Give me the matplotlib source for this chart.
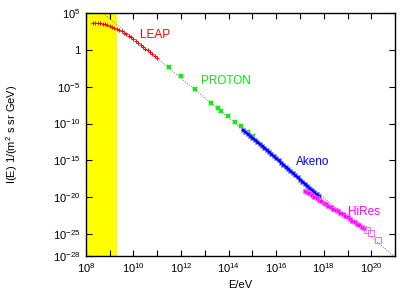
import numpy as np
import matplotlib.pyplot as plt
from matplotlib.ticker import FixedLocator, FixedFormatter, NullLocator

plt.rcParams['font.family'] = ['Liberation Sans', 'DejaVu Sans']
plt.rcParams['mathtext.default'] = 'regular'

# log10(E/eV), log10(I)
leap_logE = [8.3, 8.4, 8.5, 8.6, 8.7, 8.8, 8.9, 9.0, 9.1, 9.2, 9.3, 9.4, 9.5, 9.6,
             9.7, 9.8, 9.9, 10.0, 10.1, 10.2, 10.3, 10.4, 10.5, 10.6, 10.7, 10.8, 10.9, 11.0]
leap_logI = [3.70, 3.72, 3.70, 3.66, 3.58, 3.48, 3.38, 3.27, 3.15, 3.02, 2.88, 2.72, 2.55, 2.36,
             2.16, 1.94, 1.71, 1.47, 1.22, 0.97, 0.71, 0.45, 0.19, -0.08, -0.35, -0.62, -0.89, -1.16]

proton_logE = [11.50, 11.99, 12.58, 13.25, 13.56, 13.67, 13.98, 14.27, 14.52, 14.80, 15.03]
proton_logI = [-2.3, -3.6, -5.3, -7.15, -7.9, -8.3, -9.0, -9.75, -10.4, -11.1, -11.75]

akeno_logE = [14.6, 14.7, 14.8, 14.9, 15.0, 15.1, 15.2, 15.3, 15.4, 15.5, 15.6, 15.7, 15.8,
              15.9, 16.0, 16.1, 16.2, 16.3, 16.4, 16.5, 16.6, 16.7, 16.8, 16.9, 17.0, 17.1,
              17.2, 17.3, 17.4, 17.5, 17.6, 17.7, 17.8]
akeno_logI = [-10.86, -11.13, -11.40, -11.67, -11.94, -12.21, -12.48, -12.75, -13.02, -13.29,
              -13.58, -13.86, -14.15, -14.44, -14.73, -15.01, -15.30, -15.59, -15.87, -16.16,
              -16.45, -16.73, -17.02, -17.31, -17.60, -17.88, -18.17, -18.46, -18.74, -19.03,
              -19.32, -19.60, -19.89]

hires_logE = [17.2, 17.3, 17.4, 17.5, 17.6, 17.7, 17.8, 17.9, 18.0, 18.1, 18.2, 18.3, 18.4,
              18.5, 18.6, 18.7, 18.8, 18.9, 19.0, 19.1, 19.2, 19.3, 19.4, 19.5, 19.6, 19.7]
hires_logI = [-19.10, -19.30, -19.50, -19.71, -19.92, -20.12, -20.33, -20.53, -20.74, -20.94,
              -21.14, -21.34, -21.54, -21.74, -21.94, -22.14, -22.34, -22.54, -22.75, -22.96,
              -23.17, -23.38, -23.58, -23.79, -24.00, -24.22]
hires_open_logE = [19.8, 20.0, 20.28]
hires_open_logI = [-24.45, -24.8, -25.8]

# E^-2.7 reference line, end points
ref_logE = [8.0, 21.0]
ref_logI = [6.96, -28.14]

band = [1e8, 2e9]

ylabels = ['$10^{5}$', '1', '$10^{-5}$', '$10^{-10}$', '$10^{-15}$', '$10^{-20}$', '$10^{-25}$', '$10^{-28}$']
yticks = [1e5, 1, 1e-5, 1e-10, 1e-15, 1e-20, 1e-25, 1e-28]


def p(v):
    return np.power(10.0, np.array(v))


fig = plt.figure(figsize=(4.15, 2.91), dpi=100)
ax = fig.add_axes([0.207, 0.120, 0.745, 0.835])
ax.set_xscale('log')
ax.set_yscale('log')

ax.axvspan(band[0], band[1], color='#ffff00', zorder=0, lw=0)
ax.plot(p(ref_logE), p(ref_logI), ls=(0, (1, 1.5)), color='#777777', lw=0.7, zorder=1)

ax.plot(p(leap_logE), p(leap_logI), ls='none', marker='+', ms=3.5, mew=0.7, color='#ff0000', zorder=3)
ax.plot(p(proton_logE), p(proton_logI), ls='none', marker='x', ms=3.5, mew=1.4, color='#00ee00', zorder=3)
ax.plot(p(akeno_logE), p(akeno_logI), ls='none', marker='s', ms=3.5, mew=0.6,
        mfc='#3333ff', mec='#9999ff', zorder=3)
ax.plot(p(akeno_logE), p(akeno_logI), ls='-', lw=1.6, color='#0000ff', zorder=3)
ax.plot(p(hires_logE), p(hires_logI), ls='none', marker='s', ms=3.5, mew=0.5,
        mfc='#ff00ff', mec='#ff66ff', zorder=4)
ax.plot(p(hires_open_logE), p(hires_open_logI), ls='none', marker='s', ms=4, mew=0.7,
        mfc='none', mec='#ff66ff', zorder=4)

ax.set_xlim(1e8, 1e21)
ax.set_ylim(1e-28, 1e5)

ax.xaxis.set_major_locator(FixedLocator([10.0 ** k for k in range(8, 22)]))
ax.xaxis.set_major_formatter(FixedFormatter(['' if k % 2 else '$10^{%d}$' % k for k in range(8, 22)]))
ax.xaxis.set_minor_locator(NullLocator())
ax.yaxis.set_major_locator(FixedLocator(yticks))
ax.yaxis.set_major_formatter(FixedFormatter(ylabels))
ax.yaxis.set_minor_locator(NullLocator())
ax.tick_params(direction='in', length=4, width=0.8, top=True, right=True, labelsize=8, pad=4)
for s in ax.spines.values():
    s.set_linewidth(1.0)

ax.text(1.9e10, 10 ** 1.98, 'LEAP', color='#ff0000', fontsize=8.5, va='center')
ax.text(7.2e12, 10 ** -4.23, 'PROTON', color='#00ee00', fontsize=8.5, va='center')
ax.text(7.0e16, 10 ** -15.2, 'Akeno', color='#0000ff', fontsize=8.5, va='center')
ax.text(1.0e19, 10 ** -21.96, 'HiRes', color='#ff00ff', fontsize=8.5, va='center')

ax.set_xlabel('E/eV', fontsize=8, labelpad=3)
ax.set_ylabel('I(E) 1/(m$^2$ s sr GeV)', fontsize=8)
ax.yaxis.set_label_coords(-0.212, 0.5)

fig.savefig('out.png', dpi=100)
